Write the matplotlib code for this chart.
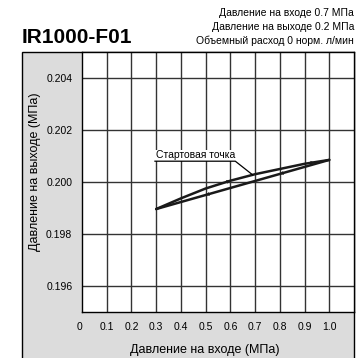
import numpy as np
import matplotlib.pyplot as plt
from matplotlib.patches import Rectangle

# measured points (inlet MPa, outlet MPa)
x_in = [0.3, 0.4, 0.5, 0.6, 0.7, 0.8, 0.9, 1.0]
y_upper = [0.19896, 0.19937, 0.19975, 0.20005, 0.20030, 0.20050, 0.20070, 0.20085]
y_lower = [0.19896, 0.19923, 0.19950, 0.19977, 0.20004, 0.20031, 0.20058, 0.20085]

xticks = [0, 0.1, 0.2, 0.3, 0.4, 0.5, 0.6, 0.7, 0.8, 0.9, 1.0]
xticklabels = ['0', '0.1', '0.2', '0.3', '0.4', '0.5', '0.6', '0.7', '0.8', '0.9', '1.0']
yticks = [0.196, 0.198, 0.200, 0.202, 0.204]
yticklabels = ['0.196', '0.198', '0.200', '0.202', '0.204']

title = 'IR1000-F01'
conditions = ['Давление на входе 0.7 МПа',
              'Давление на выходе 0.2 МПа',
              'Объемный расход 0 норм. л/мин']
start_label = 'Стартовая точка'
start_x = 0.69

plt.rcParams['font.family'] = ['Liberation Sans', 'DejaVu Sans']

W, H = 360, 358
fig = plt.figure(figsize=(W / 100, H / 100), dpi=100)

# grey panel behind the plot
fig.patches.append(Rectangle((22 / W, -0.1), (354 - 22) / W, 0.1 + (H - 52) / H,
                             transform=fig.transFigure, facecolor='#dcdcdc',
                             edgecolor='black', lw=1, zorder=-5))

ax = fig.add_axes([82 / W, (H - 312) / H, (354 - 82) / W, (312 - 52) / H])
ax.set_facecolor('white')
ax.set_xlim(0, 1.1)
ax.set_ylim(0.195, 0.205)

for v in xticks[1:]:
    ax.axvline(v, color='#333333', lw=1, zorder=1)
for v in yticks:
    ax.axhline(v, color='#333333', lw=1, zorder=1)
for s in ax.spines.values():
    s.set_color('black')
    s.set_linewidth(1)

ax.set_xticks(xticks)
ax.set_xticklabels(xticklabels, fontsize=7.5)
ax.get_xticklabels()[0].set_horizontalalignment('right')
ax.set_yticks(yticks)
ax.set_yticklabels(yticklabels, fontsize=7.5)
ax.tick_params(length=0, pad=7)

ax.plot(x_in, y_upper, color='#1a1a1a', lw=1.8, zorder=3, solid_capstyle='round')
ax.plot(x_in, y_lower, color='#1a1a1a', lw=1.8, zorder=3, solid_capstyle='round')

# direction arrows
def arrow(xa, xs, ys, direction):
    ya = np.interp(xa, xs, ys)
    dx = 0.02 * direction
    yb = np.interp(xa + dx, xs, ys)
    ax.annotate('', xy=(xa + dx, yb), xytext=(xa, ya),
                arrowprops=dict(arrowstyle='-|>', color='#1a1a1a', lw=0,
                                mutation_scale=7), zorder=4)

arrow(0.58, x_in, y_upper, 1)
arrow(0.92, x_in, y_upper, 1)
arrow(0.52, x_in, y_lower, -1)
arrow(0.82, x_in, y_lower, -1)

# start point label with leader line
sy = np.interp(start_x, x_in, y_upper)
ax.text(0.46, 0.20091, start_label, fontsize=7.5, ha='center', va='baseline',
        zorder=5, bbox=dict(facecolor='white', edgecolor='none', pad=0.5))
ax.plot([0.295, 0.62, start_x], [0.20080, 0.20080, sy], color='black', lw=0.9,
        zorder=5)

fig.text(22 / W, (H - 43) / H, title, fontsize=15, fontweight='bold',
         ha='left', va='baseline')
for i, line in enumerate(conditions):
    fig.text(354 / W, (H - 16 - 14 * i) / H, line, fontsize=7.5, ha='right',
             va='baseline')

fig.text(205 / W, (H - 350) / H, 'Давление на входе (МПа)', fontsize=9,
         ha='center', va='center')
fig.text(35 / W, (H - 172) / H, 'Давление на выходе (МПа)', fontsize=9,
         ha='center', va='center', rotation=90)

fig.savefig('out.png', dpi=100)
